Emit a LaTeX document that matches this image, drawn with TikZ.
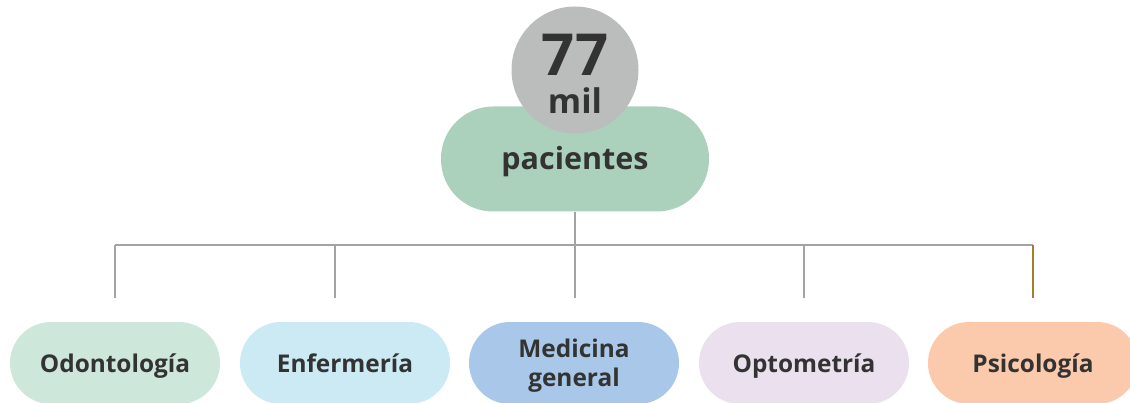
\documentclass[tikz,border=0pt]{standalone}
\usepackage{fontspec}
\setmainfont{Open Sans}
\definecolor{txtgray}{HTML}{333333}
\definecolor{linegray}{HTML}{A3A3A3}
\definecolor{linebrown}{HTML}{A67B2E}
\definecolor{circgray}{HTML}{BBBDBC}
\definecolor{pacgreen}{HTML}{ABD1BC}
\definecolor{odogreen}{HTML}{CDE8DA}
\definecolor{enfblue}{HTML}{CCEAF4}
\definecolor{medblue}{HTML}{A9C7E8}
\definecolor{optlilac}{HTML}{EAE0EE}
\definecolor{psipeach}{HTML}{FBCAAD}

\begin{document}
\begin{tikzpicture}[x=1pt, y=1pt,
  every node/.style = {align=center, text=txtgray, inner sep=0pt},
  pill/.style = {shape=rectangle, rounded corners=41pt,
    minimum width=210pt, minimum height=82pt,
    text height=18pt, text depth=0pt,
    font=\bfseries\fontsize{24.4}{29}\selectfont},
  trunk/.style = {draw=linegray, line width=2.6pt},
  branch/.style = {trunk, shorten >=24pt}]
  \clip (0,0) rectangle (1130,402);
  \node [pill, fill=pacgreen, minimum width=268pt, minimum height=105pt,
    rounded corners=52pt, text height=22pt,
    font=\bfseries\fontsize{30.5}{34}\selectfont]
    (pac) at (575,243) {pacientes};
  \node [circle, fill=circgray, minimum size=127pt,
    font=\bfseries\fontsize{58}{40}\selectfont]
    (num) at (575,332) {\rule{0pt}{50pt}77\\[-2pt]{\fontsize{34}{34}\selectfont mil}};
  \coordinate (bar) at (575,157);
  \node [pill, fill=odogreen] (odo) at (115,39) {Odontología};
  \node [pill, fill=enfblue] (enf) at (345,39) {Enfermería};
  \node [pill, fill=medblue, text height=, text depth=]
    (med) at (574,39) {\rule{0pt}{24pt}Medicina\\general};
  \node [pill, fill=optlilac] (opt) at (804,39) {Optometría};
  \node [pill, fill=psipeach] (psi) at (1033,39) {Psicología};
  \draw [trunk] (pac.south) -- (bar);
  \draw [trunk] (odo |- bar) -- (psi |- bar);
  \draw [branch] (odo |- bar) -- (odo.north);
  \draw [branch] ([xshift=-10pt]enf |- bar) -- ([xshift=-10pt]enf.north);
  \draw [branch] (bar) -- (bar |- med.north);
  \draw [branch] (opt |- bar) -- (opt.north);
  \draw [branch, draw=linebrown] (psi |- bar) -- (psi.north);
\end{tikzpicture}
\end{document}
